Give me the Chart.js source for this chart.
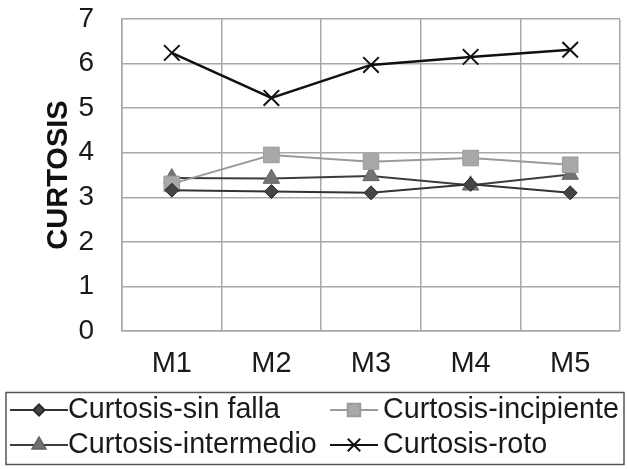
<!DOCTYPE html>
<html>
<head>
<meta charset="utf-8">
<script src="https://cdn.jsdelivr.net/npm/chart.js@4/dist/chart.umd.min.js"></script>
<style>
  html, body { margin: 0; padding: 0; background: #fff; }
  #wrap { width: 628px; height: 469px; }
</style>
</head>
<body>
<div id="wrap"><canvas id="myChart"></canvas></div>
<script>
const categories = ['M1', 'M2', 'M3', 'M4', 'M5'];
const sinFalla = [3.16, 3.13, 3.10, 3.29, 3.10];
const incipiente = [3.30, 3.95, 3.80, 3.88, 3.73];
const intermedio = [3.43, 3.42, 3.48, 3.27, 3.51];
const roto = [6.24, 5.23, 5.97, 6.15, 6.31];
const yTicks = [0, 1, 2, 3, 4, 5, 6, 7];

const font = "'Liberation Sans', Arial, sans-serif";

const series = [
  { label: 'Curtosis-sin falla', data: sinFalla, line: '#333333', fill: '#454545', edge: '#2a2a2a', style: 'rectRot', r: 7, bw: 1, lw: 2 },
  { label: 'Curtosis-incipiente', data: incipiente, line: '#9a9a9a', fill: '#a8a8a8', edge: '#9a9a9a', style: 'rect', r: 11, bw: 1, lw: 2 },
  { label: 'Curtosis-intermedio', data: intermedio, line: '#3c3c3c', fill: '#737373', edge: '#666666', style: 'triangle', r: 9.5, bw: 1, lw: 2 },
  { label: 'Curtosis-roto', data: roto, line: '#111111', fill: '#111111', edge: '#111111', style: 'crossRot', r: 11, bw: 2, lw: 2.5 }
];

// boxed legend in two columns under the chart (sin falla / incipiente, intermedio / roto)
const legendSlots = [
  { x0: 10, x1: 68, tx: 68, y: 410 },
  { x0: 330, x1: 378, tx: 383, y: 410 },
  { x0: 10, x1: 68, tx: 68, y: 445 },
  { x0: 330, x1: 378, tx: 383, y: 445 }
];

const boxedLegend = {
  id: 'boxedLegend',
  afterDraw(chart) {
    const ctx = chart.ctx;
    ctx.save();
    ctx.strokeStyle = '#555';
    ctx.lineWidth = 1.5;
    ctx.strokeRect(6, 392.5, 618, 72);
    chart.data.datasets.forEach((ds, i) => {
      const s = series[i];
      const p = legendSlots[i];
      ctx.strokeStyle = s.line;
      ctx.lineWidth = 2;
      ctx.beginPath();
      ctx.moveTo(p.x0, p.y);
      ctx.lineTo(p.x1, p.y);
      ctx.stroke();
      ctx.fillStyle = s.fill;
      ctx.strokeStyle = s.edge;
      Chart.helpers.drawPoint(ctx, { pointStyle: s.style, radius: s.r * 0.8, rotation: 0, borderWidth: s.bw }, (p.x0 + p.x1) / 2, p.y);
      ctx.fillStyle = '#1a1a1a';
      ctx.font = '28.7px ' + font;
      ctx.textAlign = 'left';
      ctx.textBaseline = 'middle';
      ctx.fillText(ds.label, p.tx, p.y);
    });
    ctx.restore();
  }
};

new Chart(document.getElementById('myChart'), {
  type: 'line',
  data: {
    labels: categories,
    datasets: series.map(s => ({
      label: s.label,
      data: s.data,
      borderColor: s.line,
      borderWidth: s.lw,
      pointStyle: s.style,
      pointRadius: s.r,
      pointBackgroundColor: s.fill,
      pointBorderColor: s.edge,
      pointBorderWidth: s.bw,
      tension: 0
    }))
  },
  options: {
    responsive: true,
    maintainAspectRatio: false,
    animation: false,
    layout: { autoPadding: false, padding: { top: 0, right: 8, left: 0, bottom: 80 } },
    plugins: {
      tooltip: { enabled: false },
      legend: { display: false }
    },
    scales: {
      x: {
        offset: true,
        grid: { offset: true, color: '#a8a8a8', lineWidth: 1.5, drawTicks: false },
        border: { color: '#a8a8a8', width: 1.5 },
        ticks: { color: '#1a1a1a', padding: 16, font: { family: font, size: 29 } },
        afterFit(scale) {
          scale.height = 58;
          scale.paddingLeft = 0;
          scale.paddingRight = 0;
        }
      },
      y: {
        min: 0,
        max: 7,
        afterBuildTicks(scale) { scale.ticks = yTicks.map(v => ({ value: v })); },
        grid: { color: '#a8a8a8', lineWidth: 1.5, drawTicks: false },
        border: { color: '#a8a8a8', width: 1.5 },
        ticks: { color: '#1a1a1a', padding: 28, font: { family: font, size: 28 } },
        title: {
          display: true,
          text: 'CURTOSIS',
          color: '#111',
          padding: { top: 42, bottom: 0 },
          font: { family: font, size: 29, weight: 'bold' }
        },
        afterFit(scale) {
          scale.width = 122;
          scale.paddingTop = 19;
          scale.paddingBottom = 10;
        }
      }
    }
  },
  plugins: [boxedLegend]
});
</script>
</body>
</html>
